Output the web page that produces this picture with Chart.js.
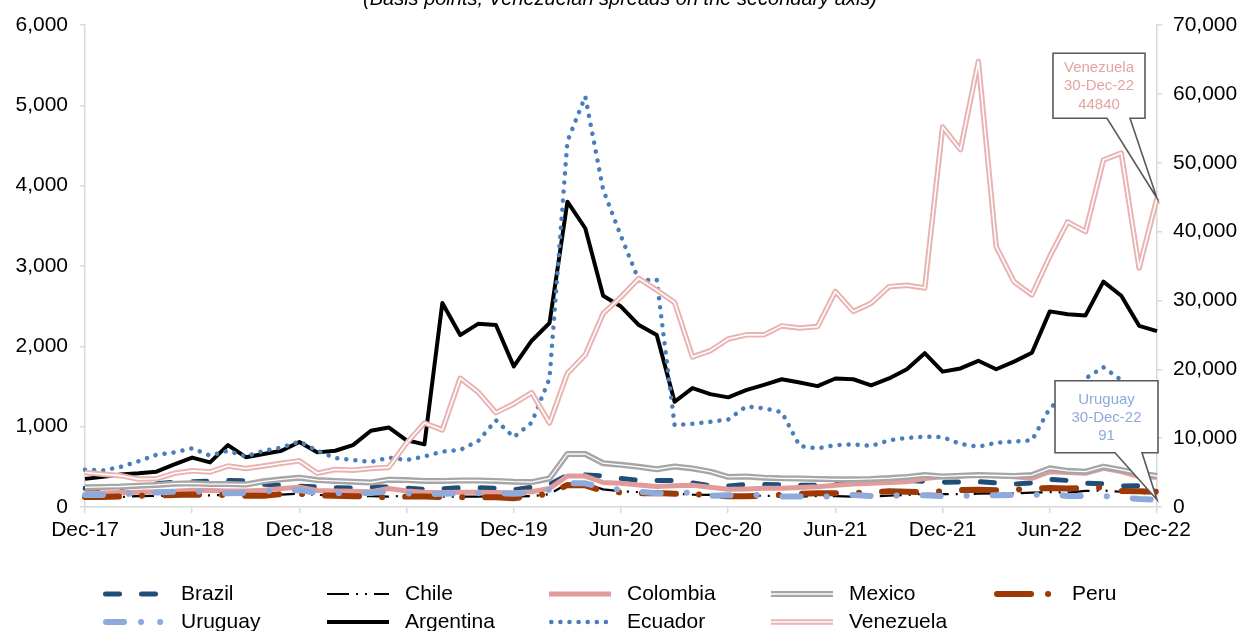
<!DOCTYPE html>
<html>
<head>
<meta charset="utf-8">
<script src="https://cdn.jsdelivr.net/npm/chart.js@4.4.1/dist/chart.umd.min.js"></script>
<style>
  html, body { margin: 0; padding: 0; background: #fff; }
  #wrap { position: relative; width: 1244px; height: 631px; overflow: hidden; }
</style>
</head>
<body>
<div id="wrap"><canvas id="c" width="1244" height="631"></canvas></div>
<script>
// Monthly EMBI spreads, basis points (Venezuela on the right-hand axis)
const months = ('Dec-17 Jan-18 Feb-18 Mar-18 Apr-18 May-18 Jun-18 Jul-18 Aug-18 Sep-18 Oct-18 Nov-18 Dec-18 ' +
  'Jan-19 Feb-19 Mar-19 Apr-19 May-19 Jun-19 Jul-19 Aug-19 Sep-19 Oct-19 Nov-19 Dec-19 ' +
  'Jan-20 Feb-20 Mar-20 Apr-20 May-20 Jun-20 Jul-20 Aug-20 Sep-20 Oct-20 Nov-20 Dec-20 ' +
  'Jan-21 Feb-21 Mar-21 Apr-21 May-21 Jun-21 Jul-21 Aug-21 Sep-21 Oct-21 Nov-21 Dec-21 ' +
  'Jan-22 Feb-22 Mar-22 Apr-22 May-22 Jun-22 Jul-22 Aug-22 Sep-22 Oct-22 Nov-22 Dec-22').split(' ');

const brazil = [232,230,245,265,290,310,315,320,330,325, 285,270,260,250,240,235,250,250,235,220,
  225,240,240,232,215,245,280,395,400,385, 355,330,330,330,300,265,260,280,280,275,
  270,270,285,295,305,320,330,320,307,310, 315,300,286,300,345,330,295,290,262,265, 261];
const chile = [115,120,125,135,140,145,150,145,150,155, 150,155,165,150,145,140,135,130,140,140,
  130,130,130,135,130,135,160,290,290,220, 195,185,175,165,155,150,140,140,140,135,
  130,135,135,130,130,140,150,165,160,160, 165,170,170,180,185,180,200,205,190,175, 160];
const colombia = [175,175,180,185,190,195,210,205,200,200, 210,230,245,205,200,195,190,230,200,185,
  180,185,185,180,178,190,230,385,385,305, 295,275,255,265,270,245,220,225,233,233,
  243,253,270,286,295,305,315,355,377,385, 398,390,377,357,440,430,419,482,440,377, 370];
const mexico = [245,250,255,265,275,290,295,285,285,280, 320,345,365,335,325,315,305,340,335,325,
  325,330,330,325,315,310,355,660,660,545, 525,500,470,505,480,440,375,380,365,357,
  355,350,345,345,350,360,375,398,380,390, 398,392,386,398,482,450,440,502,461,419, 386];
const peru = [125,125,130,140,145,150,155,150,150,140, 140,160,165,145,140,135,130,120,130,130,
  125,120,120,120,110,140,160,275,270,200, 180,170,175,165,165,140,135,135,140,150,
  165,170,170,175,185,195,190,185,195,210, 215,210,215,230,235,230,235,245,200,195, 190];
const uruguay = [150,150,160,170,180,190,200,175,170,175, 195,210,210,175,170,170,175,195,170,160,
  165,170,170,170,165,180,215,295,295,235, 215,190,170,175,180,140,145,150,150,130,
  130,130,130,150,138,138,148,145,137,137, 148,145,150,150,160,138,138,137,120,100, 91];
const argentina = [350,375,405,420,440,530,615,555,770,620, 660,700,810,680,700,770,950,990,830,780,
  2540,2140,2280,2265,1750,2070,2290,3800,3470,2630, 2495,2265,2140,1310,1480,1405,1365,1455,1520,1590,
  1550,1505,1600,1590,1515,1600,1715,1915,1685,1725, 1820,1715,1810,1920,2435,2400,2385,2805,2630,2255, 2190];
const ecuador = [465,455,500,570,650,680,730,640,700,630, 700,740,815,700,610,585,560,615,585,630,
  690,710,820,1080,870,1050,1600,4550,5110,3950, 3370,2820,2830,1020,1035,1060,1090,1250,1230,1180,
  760,730,770,780,760,830,860,875,870,785, 750,800,815,830,1230,1420,1600,1740,1580,1350, 1250];
const venezuela = [5000,4750,4550,4050,4100,4900,5250,5100,5950,5600, 5950,6350,6700,4900,5450,5350,5600,5750,9300,12200,
  11200,18700,16700,13700,15000,16600,12200,19400,22100,28100, 30500,33200,31500,29700,21800,22700,24400,25000,25000,26300,
  26000,26200,31300,28400,29600,32000,32200,31800,55200,51900, 64700,37800,32700,30800,36400,41400,40000,50400,51400,34700, 44840];

const leftTicks = { min: 0, max: 6000, step: 1000 };
const rightTicks = { min: 0, max: 70000, step: 10000 };
const titleText = '(Basis points, Venezuelan spreads on the secondary axis)';
const calloutDate = '30-Dec-22';

const FONT = "'Liberation Sans', Arial, sans-serif";
Chart.defaults.font.family = FONT;
Chart.defaults.font.size = 21;
Chart.defaults.color = '#000';

const base = { pointRadius: 0, pointHoverRadius: 0, fill: false, tension: 0,
  borderJoinStyle: 'round', yAxisID: 'y' };

const datasets = [
  { label: 'Brazil', data: brazil, borderColor: '#1f4e79', borderWidth: 5,
    borderDash: [14, 22], borderCapStyle: 'round' },
  { label: 'Chile', data: chile, borderColor: '#000000', borderWidth: 2.2,
    borderDash: [22, 7, 2, 7, 2, 7] },
  { label: 'Colombia', data: colombia, borderColor: '#e09b9b', borderWidth: 5 },
  { label: 'Mexico', data: mexico, borderColor: '#a6a6a6', borderWidth: 6 },
  { label: 'Mexico', inner: true, data: mexico, borderColor: '#ffffff', borderWidth: 1.3 },
  { label: 'Peru', data: peru, borderColor: '#9c3905', borderWidth: 6,
    borderDash: [34, 23, 0.1, 23], borderCapStyle: 'round', legendDash: [34, 17, 0.1, 40] },
  { label: 'Uruguay', data: uruguay, borderColor: '#8eaadb', borderWidth: 6,
    borderDash: [18, 26, 0.1, 26], borderCapStyle: 'round', legendDash: [18, 17, 0.1, 19, 0.1, 40] },
  { label: 'Argentina', data: argentina, borderColor: '#000000', borderWidth: 4 },
  { label: 'Ecuador', data: ecuador, borderColor: '#4a7ebb', borderWidth: 4.5,
    borderDash: [0.1, 9], borderCapStyle: 'round' },
  { label: 'Venezuela', data: venezuela, yAxisID: 'y2', borderColor: '#e8b3b1', borderWidth: 5.5 },
  { label: 'Venezuela', inner: true, data: venezuela, yAxisID: 'y2', borderColor: '#ffffff', borderWidth: 1.6 }
].map((d, i) => Object.assign({}, base, d, { order: 100 - i }));

// Legend layout: two rows of up to five entries
const legendRows = [['Brazil', 'Chile', 'Colombia', 'Mexico', 'Peru'],
                    ['Uruguay', 'Argentina', 'Ecuador', 'Venezuela']];
const legendCols = [103, 327, 549, 771, 994];
const legendRowY = [594, 622];
const legendSample = 62;

function strokeSample(ctx, ds, x0, x1, y) {
  ctx.save();
  ctx.strokeStyle = ds.borderColor;
  ctx.lineWidth = ds.borderWidth;
  ctx.lineCap = ds.borderCapStyle || 'butt';
  ctx.setLineDash(ds.legendDash || ds.borderDash || []);
  ctx.beginPath();
  const pad = ctx.lineCap === 'round' ? ds.borderWidth / 2 : 0;
  ctx.moveTo(x0 + pad, y);
  ctx.lineTo(x1 - pad, y);
  ctx.stroke();
  ctx.restore();
}

const decorations = {
  id: 'decorations',
  afterDatasetsDraw(chart) {
    const ctx = chart.ctx;
    const callouts = [
      { label: 'Venezuela', value: venezuela[venezuela.length - 1], color: '#e6a3a1',
        box: { l: -104, r: -12, t: -145, b: -80 }, wedge: [-50, -27], lines: [15, 33, 52] },
      { label: 'Uruguay', value: uruguay[uruguay.length - 1], color: '#8eaadb',
        box: { l: -102, r: 1, t: -119, b: -47 }, wedge: [-42, -15], lines: [19, 37, 55] }
    ];
    callouts.forEach(c => {
      const dsIndex = chart.data.datasets.findIndex(d => d.label === c.label && !d.inner);
      const meta = chart.getDatasetMeta(dsIndex);
      const pt = meta.data[meta.data.length - 1];
      const px = pt.x, py = pt.y;
      const L = px + c.box.l, R = px + c.box.r, T = py + c.box.t, B = py + c.box.b;
      ctx.save();
      ctx.beginPath();
      ctx.moveTo(L, T);
      ctx.lineTo(R, T);
      ctx.lineTo(R, B);
      ctx.lineTo(px + c.wedge[1], B);
      ctx.lineTo(px, py);
      ctx.lineTo(px + c.wedge[0], B);
      ctx.lineTo(L, B);
      ctx.closePath();
      ctx.fillStyle = '#ffffff';
      ctx.fill();
      ctx.strokeStyle = '#595959';
      ctx.lineWidth = 1.6;
      ctx.stroke();
      ctx.fillStyle = c.color;
      ctx.font = '15px ' + FONT;
      ctx.textAlign = 'center';
      ctx.textBaseline = 'middle';
      const cx = (L + R) / 2;
      [c.label, calloutDate, String(c.value)].forEach((t, k) => ctx.fillText(t, cx, T + c.lines[k]));
      ctx.restore();
    });
  },
  afterDraw(chart) {
    const ctx = chart.ctx;
    // title, partly above the top edge of the canvas
    ctx.save();
    ctx.font = 'italic 20px ' + FONT;
    ctx.fillStyle = '#000';
    ctx.textAlign = 'center';
    ctx.textBaseline = 'alphabetic';
    ctx.fillText(titleText, 620, 5);
    ctx.restore();
    // legend
    const sets = chart.data.datasets;
    legendRows.forEach((row, r) => {
      row.forEach((name, k) => {
        const x0 = legendCols[k], y = legendRowY[r];
        sets.filter(d => d.label === name).forEach(ds => strokeSample(ctx, ds, x0, x0 + legendSample, y));
        ctx.save();
        ctx.font = '21px ' + FONT;
        ctx.fillStyle = '#000';
        ctx.textAlign = 'left';
        ctx.textBaseline = 'middle';
        ctx.fillText(name, x0 + 78, y);
        ctx.restore();
      });
    });
  }
};

const axisGrey = '#d9d9d9';
new Chart(document.getElementById('c'), {
  type: 'line',
  data: { labels: months, datasets },
  options: {
    responsive: false,
    animation: false,
    devicePixelRatio: 1,
    layout: { padding: { top: 25, bottom: 80, left: 0, right: 0 } },
    plugins: { legend: { display: false }, tooltip: { enabled: false }, title: { display: false } },
    scales: {
      x: {
        type: 'category', offset: false,
        grid: { drawOnChartArea: false, drawTicks: true, tickLength: 6,
          color: c => (c.index % 6 === 0 ? axisGrey : 'rgba(0,0,0,0)'), lineWidth: 1.5 },
        border: { display: true, color: axisGrey, width: 1.5 },
        ticks: { autoSkip: false, maxRotation: 0, padding: 5,
          callback: (v, i) => (i % 6 === 0 ? months[i] : '') },
        afterFit: s => { s.height = 631 - 80 - 507; }
      },
      y: {
        position: 'left', min: leftTicks.min, max: leftTicks.max,
        grid: { drawOnChartArea: false, drawTicks: true, tickLength: 5, color: axisGrey, lineWidth: 1.5 },
        border: { display: true, color: axisGrey, width: 1.5 },
        ticks: { stepSize: leftTicks.step, padding: 12, callback: v => v.toLocaleString('en-US') },
        afterFit: s => { s.width = 85; }
      },
      y2: {
        position: 'right', min: rightTicks.min, max: rightTicks.max,
        grid: { drawOnChartArea: false, drawTicks: true, tickLength: 5, color: axisGrey, lineWidth: 1.5 },
        border: { display: true, color: axisGrey, width: 1.5 },
        ticks: { stepSize: rightTicks.step, padding: 11, callback: v => v.toLocaleString('en-US') },
        afterFit: s => { s.width = 87; }
      }
    }
  },
  plugins: [decorations]
});
</script>
</body>
</html>
